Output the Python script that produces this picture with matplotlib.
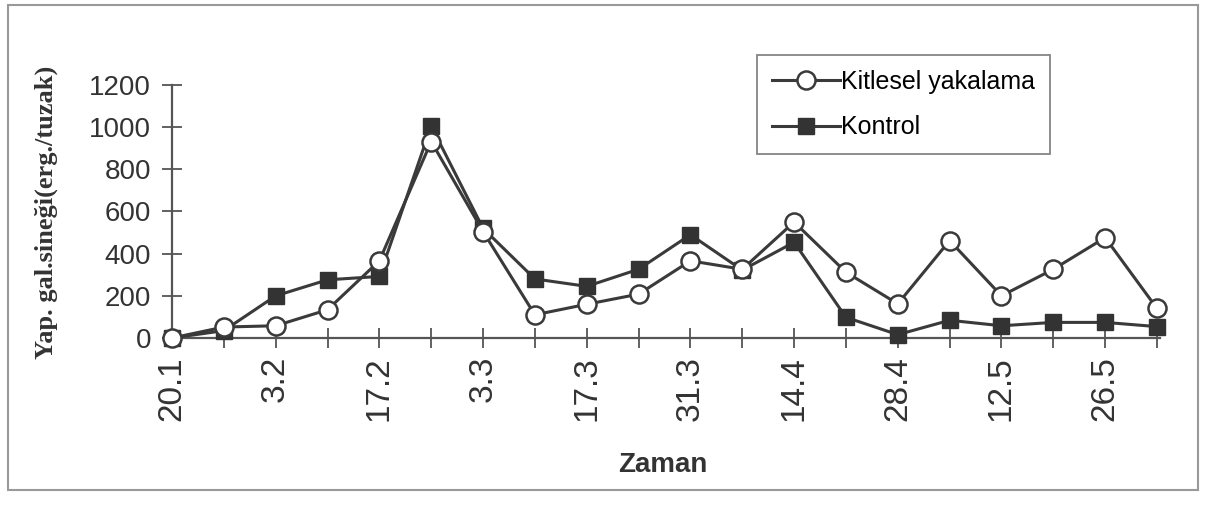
import matplotlib
matplotlib.use("Agg")
import matplotlib.pyplot as plt
from matplotlib.patches import Rectangle

# sampling dates (every other one is labelled on the axis)
dates = ["20.1", "27.1", "3.2", "10.2", "17.2", "24.2", "3.3", "10.3", "17.3", "24.3",
         "31.3", "7.4", "14.4", "21.4", "28.4", "5.5", "12.5", "19.5", "26.5", "2.6"]
kitlesel = [0, 52, 58, 134, 366, 932, 505, 110, 160, 208,
            366, 326, 550, 312, 162, 462, 200, 326, 476, 140]
kontrol = [0, 35, 200, 276, 292, 1005, 520, 280, 245, 326,
           490, 322, 454, 98, 16, 84, 58, 74, 74, 54]
yticks = [0, 200, 400, 600, 800, 1000, 1200]

W, H = 1205, 519
fig = plt.figure(figsize=(W / 100, H / 100), dpi=100)
fig.patch.set_facecolor("white")

# axes placed in pixel terms: x from 172 to 1157, y 0 at 338, 1200 at 85
x0, x1 = 172, 1157
y0, y1 = 338, 85
ax = fig.add_axes([x0 / W, (H - y0) / H, (x1 - x0) / W, (y0 - y1) / H])
ax.set_facecolor("none")

lc = "#3a3a3a"
xs = list(range(len(dates)))
ax.plot(xs, kitlesel, color=lc, lw=2.2, marker="o", ms=13, mfc="white",
        mec=lc, mew=1.8, clip_on=False, zorder=4, label="Kitlesel yakalama")
ax.plot(xs, kontrol, color=lc, lw=2.2, marker="s", ms=11, mfc="#333333",
        mec="#333333", clip_on=False, zorder=3, label="Kontrol")

ax.set_xlim(0, len(dates) - 1)
ax.set_ylim(0, 1200)

for s in ["top", "right"]:
    ax.spines[s].set_visible(False)
for s in ["left", "bottom"]:
    ax.spines[s].set_color("#555555")
    ax.spines[s].set_linewidth(1.6)
ax.spines["bottom"].set_bounds(0, len(dates) - 1 + 0.06)

ax.set_yticks(yticks)
ax.set_yticklabels([str(v) for v in yticks], fontsize=20, family="Liberation Sans", color="#333333")
ax.set_xticks(xs)
ax.set_xticklabels([d if i % 2 == 0 else "" for i, d in enumerate(dates)],
                   rotation=90, fontsize=24, family="Liberation Sans", color="#333333")
ax.tick_params(axis="y", direction="inout", length=14, width=1.3, color="#555555", pad=8)
ax.tick_params(axis="x", direction="inout", length=14, width=1.3, color="#555555", pad=6)

ax.set_xlabel("Zaman", fontsize=20, fontweight="bold", family="Liberation Sans", color="#333333")
ax.xaxis.set_label_coords((663 - x0) / (x1 - x0), -(452 - y0) / (y0 - y1))
ax.set_ylabel("Yap. gal.sineği(erg./tuzak)", fontsize=19, fontweight="bold",
              family="Liberation Serif", color="#333333")
ax.yaxis.set_label_coords(-(x0 - 58) / (x1 - x0), (y0 - 212) / (y0 - y1))

leg = ax.legend(loc="upper left", bbox_to_anchor=(757 / W, 1 - 55 / H),
                bbox_transform=fig.transFigure, frameon=True, fancybox=False,
                prop={"family": "Liberation Sans", "size": 18}, handlelength=2.7,
                handletextpad=0.05, borderpad=0.6, labelspacing=0.85, borderaxespad=0)
leg.get_frame().set_edgecolor("#666666")
leg.get_frame().set_linewidth(1.3)

# scanned page frame
fig.patches.append(Rectangle((8 / W, (H - 490) / H), (1198 - 8) / W, (490 - 5) / H,
                             transform=fig.transFigure, fill=False,
                             edgecolor="#999999", lw=1.5))

fig.savefig("out.png", dpi=100)
